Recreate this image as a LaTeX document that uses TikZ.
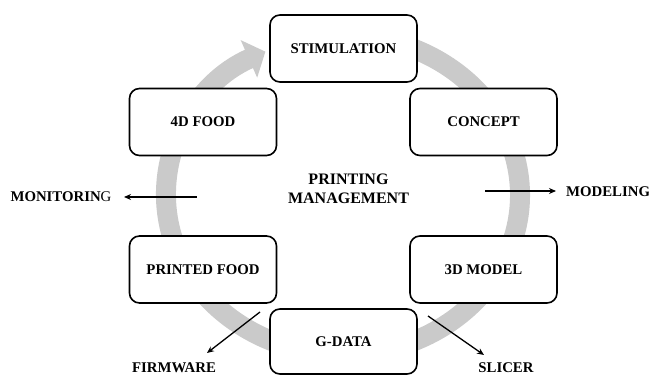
\documentclass[tikz,border=0pt]{standalone}
\usepackage{fontspec}
\setmainfont{Liberation Serif}
\usetikzlibrary{arrows.meta}
\definecolor{ringgray}{RGB}{202,202,202}
\tikzset{
  stagebox/.style={draw=black, line width=1.6pt, rounded corners=10pt, fill=white,
    minimum width=147pt, minimum height=67pt, inner sep=0pt,
    font=\bfseries\fontsize{14.8}{17}\selectfont},
  sidelabel/.style={inner sep=0pt, font=\bfseries\fontsize{14.8}{17}\selectfont},
  centerlabel/.style={inner sep=0pt, align=center, font=\bfseries\fontsize{16}{19}\selectfont},
  ring/.style={draw=ringgray, line width=20pt, -{Triangle[length=18pt,width=40pt]}},
  outarrow/.style={draw=black, line width=1.3pt, -{Stealth[length=7pt,width=6pt]}}
}
\begin{document}
\begin{tikzpicture}[x=1pt,y=1pt]
\useasboundingbox (0,0) rectangle (649,375);
\coordinate (c) at (343,180);
% gray circular arrow
\draw[ring] (c) ++(100:177 and 159.5) arc[start angle=100, end angle=-244, x radius=177, y radius=159.5];
% stage boxes
\node[stagebox] (stim) at (343.5,326.5) {STIMULATION};
\node[stagebox] (food4d) at (203,253) {4D FOOD};
\node[stagebox] (concept) at (483.5,253) {CONCEPT};
\node[stagebox] (printed) at (203,105.5) {PRINTED FOOD};
\node[stagebox] (model3d) at (483.5,105.5) {3D MODEL};
\node[stagebox, minimum height=65pt] (gdata) at (343.5,33.5) {G-DATA};
% centre label
\node[centerlabel] (pm) at (348.5,186) {PRINTING\\MANAGEMENT};
% side labels
\node[sidelabel] (mon) at (61,178) {MONITORIN{\mdseries G}};
\node[sidelabel, anchor=west] (modl) at (566,183.5) {MODELING};
\node[sidelabel] (firm) at (174,7.5) {FIRMWARE};
\node[sidelabel] (slic) at (506,7.5) {SLICER};
% arrows
\coordinate (mon0) at (196.5,178);
\coordinate (mon1) at (124,178);
\coordinate (mod0) at (485,184);
\coordinate (mod1) at (556,184);
\coordinate (fw0) at (260,63);
\coordinate (fw1) at (207,22);
\coordinate (sl0) at (428,59);
\coordinate (sl1) at (484,20);
\draw[outarrow] (mon0) -- (mon1);
\draw[outarrow] (mod0) -- (mod1);
\draw[outarrow] (fw0) -- (fw1);
\draw[outarrow] (sl0) -- (sl1);
\end{tikzpicture}
\end{document}
